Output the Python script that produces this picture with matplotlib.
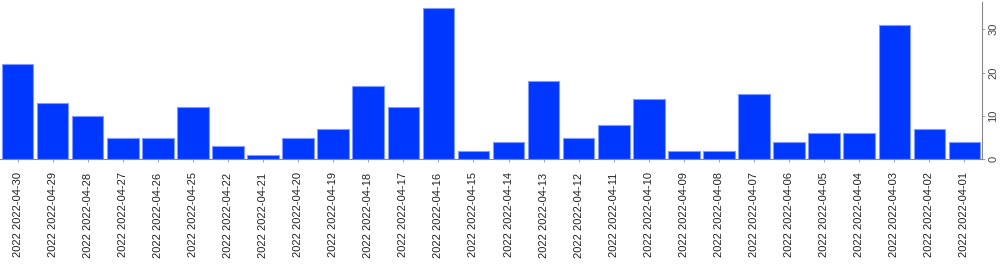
import matplotlib.pyplot as plt

dates = [
    "2022-04-30", "2022-04-29", "2022-04-28", "2022-04-27", "2022-04-26",
    "2022-04-25", "2022-04-22", "2022-04-21", "2022-04-20", "2022-04-19",
    "2022-04-18", "2022-04-17", "2022-04-16", "2022-04-15", "2022-04-14",
    "2022-04-13", "2022-04-12", "2022-04-11", "2022-04-10", "2022-04-09",
    "2022-04-08", "2022-04-07", "2022-04-06", "2022-04-05", "2022-04-04",
    "2022-04-03", "2022-04-02", "2022-04-01",
]
counts = [22, 13, 10, 5, 5, 12, 3, 1, 5, 7, 17, 12, 35, 2, 4, 18, 5, 8, 14,
          2, 2, 15, 4, 6, 6, 31, 7, 4]
labels = ["2022 " + d for d in dates]

plt.rcParams["font.family"] = ["Liberation Sans", "DejaVu Sans"]

fig = plt.figure(figsize=(10, 2.68), dpi=100)
ax = fig.add_axes([0.0, 0.406, 0.982, 0.5865])

x = range(len(counts))
ax.bar(x, counts, width=0.9, color="#0037ff", edgecolor="#7f9bff", linewidth=0.8)

ax.set_xlim(-0.5, len(counts) - 0.5)
ax.set_ylim(0, 36.3)
ax.set_xticks(list(x))
ax.set_xticklabels(labels, rotation=90, fontsize=8, color="#222222")
ax.set_yticks([0, 10, 20, 30])
ax.set_yticklabels(["0", "10", "20", "30"], rotation=90, va="center",
                   fontsize=8, color="#444444")

ax.yaxis.tick_right()
for side in ["left", "top"]:
    ax.spines[side].set_visible(False)
for side in ["right", "bottom"]:
    ax.spines[side].set_color("#888888")
    ax.spines[side].set_linewidth(0.8)
ax.tick_params(axis="both", colors="#aaaaaa", length=2.5, width=0.8)
ax.tick_params(axis="x", labelcolor="#222222", pad=7)
ax.tick_params(axis="y", labelcolor="#444444", pad=2)

fig.savefig("out.png", dpi=100)
